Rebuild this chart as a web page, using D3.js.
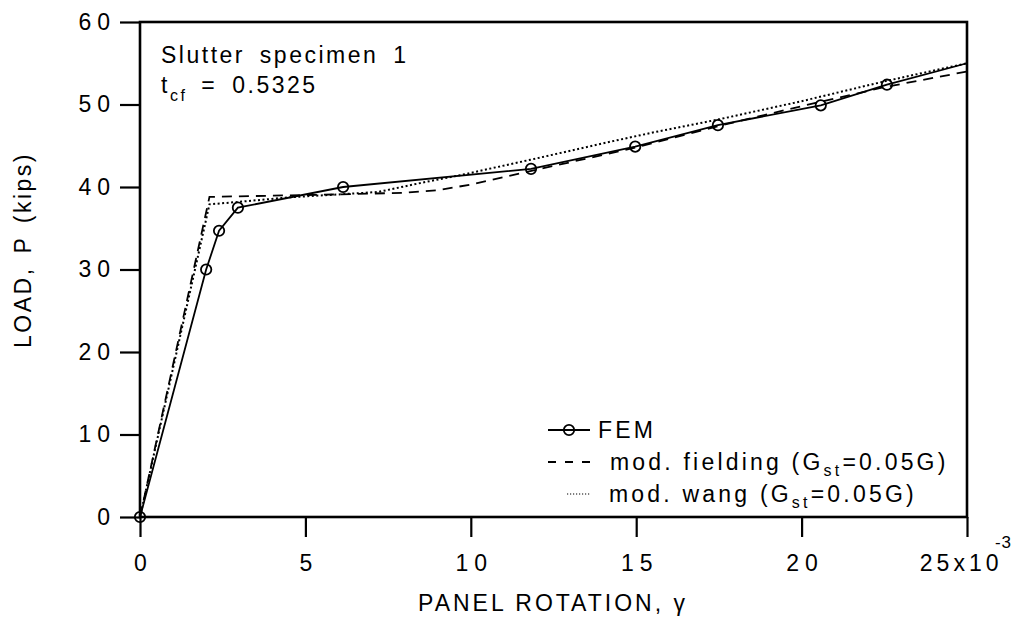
<!DOCTYPE html>
<html><head><meta charset="utf-8">
<script src="https://cdn.jsdelivr.net/npm/d3@7"></script>
<style>
body{margin:0;background:#fff}
svg{display:block}
text{font-family:"Liberation Sans",Arial,Helvetica,sans-serif;fill:#000}
</style>
</head><body>
<svg id="chart" width="1023" height="625"></svg>
<script>
// ---- data ----
const xTicks = [0, 5, 10, 15, 20, 25];
const yTicks = [0, 10, 20, 30, 40, 50, 60];
const xTickLabels = ["0", "5", "10", "15", "20", "25x10"];
const yTickLabels = ["0", "10", "20", "30", "40", "50", "60"];

const femX = [0, 2.0, 2.39, 2.96, 6.14, 11.82, 14.97, 17.47, 20.58, 22.58, 25.0];
const femY = [0, 30.0, 34.7, 37.5, 40.0, 42.2, 44.9, 47.5, 49.9, 52.4, 55.0];

const fieldingX = [0, 2.1, 4, 6, 8, 9, 10, 11, 12, 15, 17.5, 20, 22.5, 25];
const fieldingY = [0, 38.8, 38.95, 39.1, 39.3, 39.6, 40.3, 41.2, 42.1, 44.8, 47.4, 49.8, 52.1, 54.0];

const wangX = [0, 2.1, 3, 4.5, 6, 7.2, 8.5, 9.7, 11.8, 14, 15.5, 17.5, 20, 22.5, 25];
const wangY = [0, 37.9, 38.2, 38.75, 39.1, 39.4, 40.5, 41.45, 43.3, 45.3, 46.6, 48.2, 50.4, 52.8, 55.0];

const seriesNames = ["FEM", "mod. fielding", "mod. wang"];

// ---- layout ----
const svg = d3.select("#chart");
const plot = {left: 140, right: 967, top: 22, bottom: 517};
const x = d3.scaleLinear().domain([0, 25]).range([plot.left, plot.right]);
const y = d3.scaleLinear().domain([0, 60]).range([plot.bottom, plot.top]);

const LS = 6; // tick label letter spacing

// axes
const yAxis = d3.axisLeft(y).tickValues(yTicks).tickSize(20).tickPadding(4)
  .tickFormat((d, i) => yTickLabels[i]);
const gy = svg.append("g").attr("transform", `translate(${plot.left},0)`).call(yAxis);

const xAxis = d3.axisBottom(x).tickValues(xTicks).tickSize(20).tickPadding(18)
  .tickFormat((d, i) => xTickLabels[i]);
const gx = svg.append("g").attr("transform", `translate(0,${plot.bottom})`).call(xAxis);

[gx, gy].forEach(g => {
  g.select(".domain").remove();
  g.selectAll(".tick line").attr("stroke", "#000").attr("stroke-width", 2.2);
  g.selectAll(".tick text").attr("font-size", 23).attr("letter-spacing", LS + "px")
    .attr("font-family", '"Liberation Sans",Arial,sans-serif').attr("fill", "#000");
});
gx.selectAll(".tick text").attr("dx", LS / 2);
// last x label: "25x10" with superscript -3
const lastTick = gx.selectAll(".tick").filter(d => d === 25);
lastTick.select("text")
  .attr("text-anchor", "end").attr("dx", 0)
  .attr("transform", `translate(${1002 - x(25)},0)`)
  .attr("letter-spacing", "4px");
lastTick.append("text")
  .attr("x", 1003 - x(25)).attr("y", 31)
  .attr("font-size", 17).attr("letter-spacing", "1px").attr("fill", "#000")
  .attr("font-family", '"Liberation Sans",Arial,sans-serif')
  .text("-3");

// frame
svg.append("rect")
  .attr("x", plot.left).attr("y", plot.top)
  .attr("width", plot.right - plot.left).attr("height", plot.bottom - plot.top)
  .attr("fill", "none").attr("stroke", "#000").attr("stroke-width", 2.6);

// lines
const line = d3.line().x(d => x(d[0])).y(d => y(d[1]));
const fem = femX.map((v, i) => [v, femY[i]]);
const fielding = fieldingX.map((v, i) => [v, fieldingY[i]]);
const wang = wangX.map((v, i) => [v, wangY[i]]);

svg.append("path").datum(wang).attr("d", line).attr("fill", "none")
  .attr("stroke", "#000").attr("stroke-width", 2).attr("stroke-dasharray", "2,2.5");
svg.append("path").datum(fielding).attr("d", line).attr("fill", "none")
  .attr("stroke", "#000").attr("stroke-width", 1.8).attr("stroke-dasharray", "10,7");
svg.append("path").datum(fem).attr("d", line).attr("fill", "none")
  .attr("stroke", "#000").attr("stroke-width", 1.8);
svg.selectAll("circle.fem").data(fem.slice(0, fem.length - 1)).enter().append("circle")
  .attr("class", "fem")
  .attr("cx", d => x(d[0])).attr("cy", d => y(d[1])).attr("r", 5.2)
  .attr("fill", "none").attr("stroke", "#000").attr("stroke-width", 1.8);

// axis titles
svg.append("text").attr("x", 553).attr("y", 611).attr("text-anchor", "middle")
  .attr("font-size", 23).attr("letter-spacing", "3px").text("PANEL ROTATION, \u03b3");
svg.append("text").attr("transform", "translate(31,250) rotate(-90)").attr("text-anchor", "middle")
  .attr("font-size", 23).attr("letter-spacing", "2.5px").attr("word-spacing", "4px")
  .text("LOAD, P (kips)");

// annotation
svg.append("text").attr("x", 161).attr("y", 63).attr("font-size", 23)
  .attr("letter-spacing", "2.5px").attr("word-spacing", "6px").text("Slutter specimen 1");
const t2 = svg.append("text").attr("x", 161).attr("y", 93).attr("font-size", 23).attr("letter-spacing", "2.5px");
t2.append("tspan").text("t");
t2.append("tspan").attr("dy", 8).attr("font-size", 16).text("cf");
t2.append("tspan").attr("dy", -8).attr("dx", 14).text("=");
t2.append("tspan").attr("dx", 15).text("0.5325");

// legend
const legX0 = 548, legX1 = 590;
const rows = [430, 462, 494];
svg.append("line").attr("x1", legX0).attr("x2", legX1).attr("y1", rows[0]).attr("y2", rows[0])
  .attr("stroke", "#000").attr("stroke-width", 1.8);
svg.append("circle").attr("cx", (legX0 + legX1) / 2).attr("cy", rows[0]).attr("r", 5.2)
  .attr("fill", "none").attr("stroke", "#000").attr("stroke-width", 1.8);
svg.append("line").attr("x1", legX0).attr("x2", legX1).attr("y1", rows[1]).attr("y2", rows[1])
  .attr("stroke", "#000").attr("stroke-width", 1.8).attr("stroke-dasharray", "8,9");
svg.append("line").attr("x1", 567).attr("x2", 590).attr("y1", rows[2]).attr("y2", rows[2])
  .attr("stroke", "#000").attr("stroke-width", 1.2).attr("stroke-dasharray", "1.2,1.8");

function legText(xp, yp, name, sub) {
  const t = svg.append("text").attr("x", xp).attr("y", yp + 8).attr("font-size", 23)
    .attr("letter-spacing", "3.2px");
  t.append("tspan").text(name);
  if (sub) {
    t.append("tspan").text(" (G");
    t.append("tspan").attr("dy", 6).attr("font-size", 16).text("st");
    t.append("tspan").attr("dy", -6).text("=0.05G)");
  }
}
legText(598, rows[0], seriesNames[0], false);
legText(610, rows[1], seriesNames[1], true);
legText(609, rows[2], seriesNames[2], true);
</script>
</body></html>
